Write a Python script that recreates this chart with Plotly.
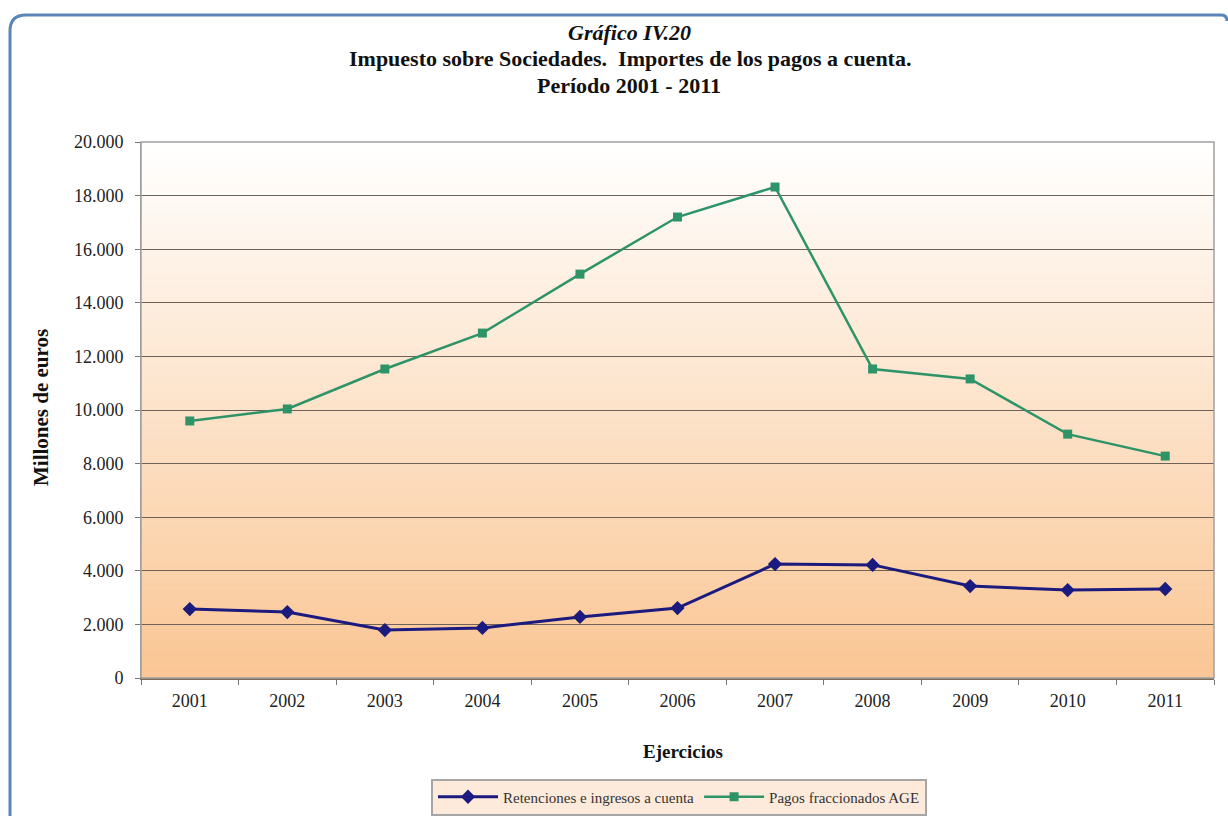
import plotly.graph_objects as go

years = ["2001", "2002", "2003", "2004", "2005", "2006", "2007", "2008", "2009", "2010", "2011"]
retenciones = [2570, 2460, 1790, 1870, 2280, 2610, 4250, 4220, 3430, 3280, 3320]
pagos = [9590, 10040, 11530, 12870, 15070, 17200, 18320, 11530, 11160, 9100, 8280]
yticks = [0, 2000, 4000, 6000, 8000, 10000, 12000, 14000, 16000, 18000, 20000]

W, H = 1228, 816
L, R, T, B = 141, 1214, 142, 678
pw, ph = R - L, B - T

def px(x):
    return (x - L) / pw

def py(y):
    return (B - y) / ph

font_serif = "Liberation Serif"

fig = go.Figure()
fig.add_trace(go.Scatter(
    x=years, y=retenciones, name="Retenciones e ingresos a cuenta",
    mode="lines+markers",
    line=dict(color="#1B1A7E", width=3),
    marker=dict(symbol="diamond", size=11, color="#1B1A7E"),
))
fig.add_trace(go.Scatter(
    x=years, y=pagos, name="Pagos fraccionados AGE",
    mode="lines+markers",
    line=dict(color="#2E9468", width=2.5),
    marker=dict(symbol="square", size=9, color="#2E9468"),
))

shapes = []
# gradient background of plot area
n = 60
top = (255, 255, 255)
bot = (250, 198, 148)
for i in range(n):
    t = (i + 0.5) / n
    c = tuple(int(round(top[k] + (bot[k] - top[k]) * t)) for k in range(3))
    shapes.append(dict(type="rect", xref="paper", yref="paper",
                       x0=0, x1=1, y0=1 - (i + 1) / n, y1=1 - i / n + 0.001,
                       fillcolor="rgb(%d,%d,%d)" % c, line=dict(width=0), layer="below"))

# outer rounded frame
x0, y0, x1, y1, r = 10, 15, 1227, 818, 16
path = "M %f %f L %f %f Q %f %f %f %f L %f %f Q %f %f %f %f" % (
    px(x0), py(y1), px(x0), py(y0 + r), px(x0), py(y0), px(x0 + r), py(y0),
    px(x1 - 6), py(y0), px(x1), py(y0), px(x1), py(y0 + 6))
shapes.append(dict(type="path", xref="paper", yref="paper", path=path,
                   line=dict(color="#5B84B9", width=3), layer="above"))

annotations = [
    dict(text="<b><i>Gráfico IV.20</i></b>", x=px(629), y=py(33), xref="paper", yref="paper",
         showarrow=False, font=dict(family=font_serif, size=22, color="#111"), yanchor="middle"),
    dict(text="<b>Impuesto sobre Sociedades.  Importes de los pagos a cuenta.</b>", x=px(630), y=py(59),
         xref="paper", yref="paper", showarrow=False,
         font=dict(family=font_serif, size=22, color="#111"), yanchor="middle"),
    dict(text="<b>Período 2001 - 2011</b>", x=px(629), y=py(85), xref="paper", yref="paper",
         showarrow=False, font=dict(family=font_serif, size=22, color="#111"), yanchor="middle"),
    dict(text="<b>Millones de euros</b>", x=px(41), y=py(408), xref="paper", yref="paper",
         showarrow=False, textangle=-90, font=dict(family=font_serif, size=21, color="#111"),
         xanchor="center", yanchor="middle"),
    dict(text="<b>Ejercicios</b>", x=px(683), y=py(751), xref="paper", yref="paper",
         showarrow=False, font=dict(family=font_serif, size=19, color="#111"),
         xanchor="center", yanchor="middle"),
]

fig.update_layout(
    width=W, height=H,
    margin=dict(l=L, r=W - R, t=T, b=H - B),
    paper_bgcolor="white",
    plot_bgcolor="rgba(0,0,0,0)",
    separators=",.",
    shapes=shapes,
    annotations=annotations,
    showlegend=True,
    legend=dict(orientation="h", xref="container", yref="container",
                x=679 / W, y=1 - 797 / H, xanchor="center", yanchor="middle",
                bgcolor="#FDEADA", bordercolor="#A6A6A6", borderwidth=2,
                font=dict(family=font_serif, size=15, color="#333"),
                itemwidth=60, tracegroupgap=0),
    font=dict(family=font_serif, size=18, color="#222"),
)

fig.update_xaxes(
    type="category", showgrid=False, ticks="outside", tickson="boundaries", ticklen=5,
    tickcolor="#777", showline=True, linecolor="#7A6A5A", linewidth=2, mirror=False,
    tickfont=dict(family=font_serif, size=18, color="#222"), range=[-0.5, 10.5],
    ticklabelstandoff=5,
)
fig.update_yaxes(
    range=[0, 20000], tickvals=yticks, tickformat=",.0f", showgrid=True,
    gridcolor="#6E6258", gridwidth=1, ticks="outside", ticklen=5, tickcolor="#777",
    showline=True, linecolor="#999", linewidth=1, mirror=False, zeroline=False,
    tickfont=dict(family=font_serif, size=18, color="#222"),
    ticklabelstandoff=8,
)
# plot border (top/right) in gray
fig.add_shape(type="rect", xref="paper", yref="paper", x0=0, x1=1, y0=0, y1=1,
              line=dict(color="#A0A0A0", width=1.5), layer="above")

fig.write_html("out.html", config={"displayModeBar": False},
               post_script="document.body.style.margin='0';document.body.style.overflow='hidden';")
